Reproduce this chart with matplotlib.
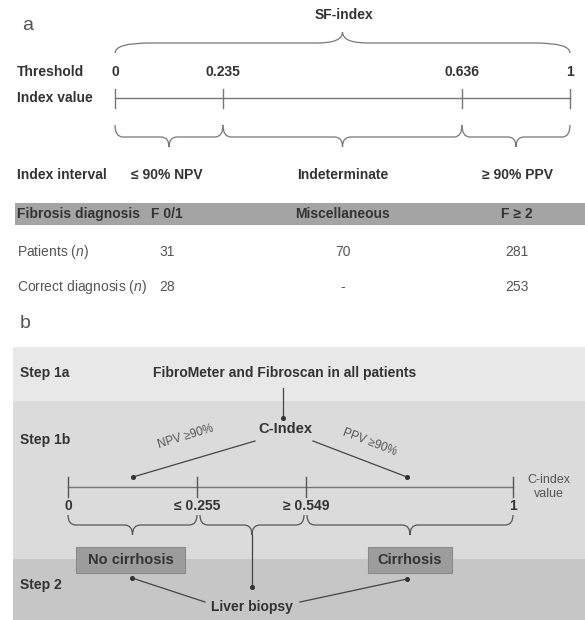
import matplotlib
matplotlib.use("Agg")
import matplotlib.pyplot as plt
from matplotlib.path import Path
from matplotlib.patches import PathPatch, Rectangle

plt.rcParams['font.family'] = ['Liberation Sans', 'DejaVu Sans']
plt.rcParams['mathtext.fontset'] = 'custom'
plt.rcParams['mathtext.it'] = 'Liberation Sans:italic'
plt.rcParams['mathtext.rm'] = 'Liberation Sans'

# ---------------- data ----------------
sf_thresholds = [0, 0.235, 0.636, 1]
sf_intervals = ["\u2264 90% NPV", "Indeterminate", "\u2265 90% PPV"]
sf_diagnoses = ["F 0/1", "Miscellaneous", "F \u2265 2"]
sf_patients = [31, 70, 281]
sf_correct = [28, None, 253]

c_thresholds = [0, 0.255, 0.549, 1]
c_threshold_prefix = ["", "\u2264 ", "\u2265 ", ""]
c_outcomes = ["No cirrhosis", "Cirrhosis"]

# ---------------- layout (pixel coordinates) ----------------
sf_tick_x = [115, 223, 462, 570]
col_x = [167, 343, 517]
c_tick_x = [68, 197, 306, 513]

DARK = "#333333"
MID = "#555555"
LINE = "#777777"
FS = 10

fig = plt.figure(figsize=(5.85, 6.2), dpi=100)
ax = fig.add_axes([0, 0, 1, 1])
ax.set_xlim(0, 585)
ax.set_ylim(620, 0)
ax.axis("off")


def brace(x0, x1, ye, ym, yt, r_end, r_mid, color=LINE, lw=0.9, z=3):
    xm = (x0 + x1) / 2
    verts = [(x0, ye), (x0, ym), (x0 + r_end, ym), (xm - r_mid, ym),
             (xm, ym), (xm, yt), (xm, ym), (xm + r_mid, ym),
             (x1 - r_end, ym), (x1, ym), (x1, ye)]
    codes = [Path.MOVETO, Path.CURVE3, Path.CURVE3, Path.LINETO,
             Path.CURVE3, Path.CURVE3, Path.CURVE3, Path.CURVE3,
             Path.LINETO, Path.CURVE3, Path.CURVE3]
    ax.add_patch(PathPatch(Path(verts, codes), fill=False, ec=color, lw=lw, zorder=z))


def fmt(v):
    return "0" if v == 0 else ("1" if v == 1 else f"{v:.3f}")


def dot_line(p0, p1):
    ax.plot([p0[0], p1[0]], [p0[1], p1[1]], color="#444444", lw=0.9, zorder=4)
    ax.plot([p1[0]], [p1[1]], "o", ms=2.6, color="#333333", zorder=5)


# ================= Panel a =================
ax.text(22, 25, "a", fontsize=14, color=MID, va="center", ha="left")
ax.text(344, 15, "SF-index", fontsize=FS, fontweight="bold", color=DARK, ha="center", va="center")
brace(sf_tick_x[0], sf_tick_x[-1], 53, 43, 32, 35, 25)

ax.text(17, 72, "Threshold", fontsize=FS, fontweight="bold", color=DARK, va="center")
for x, v in zip(sf_tick_x, sf_thresholds):
    ax.text(x, 72, fmt(v), fontsize=FS, fontweight="bold", color=DARK, ha="center", va="center")

ax.text(17, 98, "Index value", fontsize=FS, fontweight="bold", color=DARK, va="center")
ax.plot([sf_tick_x[0], sf_tick_x[-1]], [98, 98], color=LINE, lw=1.0)
for x in sf_tick_x:
    ax.plot([x, x], [89, 108], color=LINE, lw=1.0)

for i in range(3):
    brace(sf_tick_x[i], sf_tick_x[i + 1], 125, 137, 147, 8, 8)

ax.text(17, 175, "Index interval", fontsize=FS, fontweight="bold", color=DARK, va="center")
for x, s in zip(col_x, sf_intervals):
    ax.text(x, 175, s, fontsize=FS, fontweight="bold", color=DARK, ha="center", va="center")

ax.add_patch(Rectangle((15, 203), 570, 22, color="#a4a4a4", lw=0, zorder=1))
ax.text(17, 214, "Fibrosis diagnosis", fontsize=FS, fontweight="bold", color=DARK, va="center", zorder=3)
for x, s in zip(col_x, sf_diagnoses):
    ax.text(x, 214, s, fontsize=FS, fontweight="bold", color=DARK, ha="center", va="center", zorder=3)

ax.text(17, 252, r"Patients ($\mathit{n}$)", fontsize=FS, color=MID, va="center")
for x, v in zip(col_x, sf_patients):
    ax.text(x, 252, str(v), fontsize=FS, color=MID, ha="center", va="center")

ax.text(17, 287, r"Correct diagnosis ($\mathit{n}$)", fontsize=FS, color=MID, va="center")
for x, v in zip(col_x, sf_correct):
    ax.text(x, 287, "-" if v is None else str(v), fontsize=FS, color=MID, ha="center", va="center")

# ================= Panel b =================
ax.text(20, 324, "b", fontsize=14, color=MID, va="center", ha="left")
ax.add_patch(Rectangle((13, 347), 572, 54, color="#e8e8e8", lw=0, zorder=0))
ax.add_patch(Rectangle((13, 401), 572, 158, color="#dbdbdb", lw=0, zorder=0))
ax.add_patch(Rectangle((13, 559), 572, 61, color="#c6c6c6", lw=0, zorder=0))

ax.text(20, 373, "Step 1a", fontsize=FS, fontweight="bold", color=DARK, va="center")
ax.text(20, 440, "Step 1b", fontsize=FS, fontweight="bold", color=DARK, va="center")
ax.text(20, 585, "Step 2", fontsize=FS, fontweight="bold", color=DARK, va="center")

ax.text(285, 373, "FibroMeter and Fibroscan in all patients", fontsize=FS, fontweight="bold",
        color=DARK, ha="center", va="center")
dot_line((283, 388), (283, 418))
ax.text(285, 429, "C-Index", fontsize=FS + 0.5, fontweight="bold", color=DARK, ha="center", va="center")

dot_line((255, 441), (133, 477))
dot_line((313, 441), (407, 477))
ax.text(186, 437, "NPV \u226590%", fontsize=8.5, color=MID, ha="center", va="center", rotation=17)
ax.text(370, 442, "PPV \u226590%", fontsize=8.5, color=MID, ha="center", va="center", rotation=-21)

ax.plot([c_tick_x[0], c_tick_x[-1]], [487, 487], color=LINE, lw=1.0)
for x in c_tick_x:
    ax.plot([x, x], [477, 497], color="#555555", lw=1.0)
for x, v, p in zip(c_tick_x, c_thresholds, c_threshold_prefix):
    ax.text(x, 506, p + fmt(v), fontsize=FS, fontweight="bold", color=DARK, ha="center", va="center")
ax.text(549, 487, "C-index\nvalue", fontsize=9, color=MID, ha="center", va="center", linespacing=1.2)

brace(c_tick_x[0], c_tick_x[1], 515, 525, 535, 8, 8, color="#555555")
brace(c_tick_x[1] + 3, c_tick_x[2] - 2, 515, 525, 535, 8, 8, color="#555555")
brace(c_tick_x[2] + 1, c_tick_x[3], 515, 525, 535, 8, 8, color="#555555")

for (x0, x1), s in zip([(76, 185), (368, 452)], c_outcomes):
    ax.add_patch(Rectangle((x0, 547), x1 - x0, 26, fc="#9c9c9c", ec="#8a8a8a", lw=0.8, zorder=3))
    ax.text((x0 + x1) / 2, 560, s, fontsize=FS + 0.5, fontweight="bold", color=DARK,
            ha="center", va="center", zorder=4)

dot_line((252, 535), (252, 587))
dot_line((205, 602), (132, 578))
dot_line((300, 602), (407, 579))
ax.text(252, 607, "Liver biopsy", fontsize=FS, fontweight="bold", color=DARK, ha="center", va="center")

fig.savefig("out.png", dpi=100)
